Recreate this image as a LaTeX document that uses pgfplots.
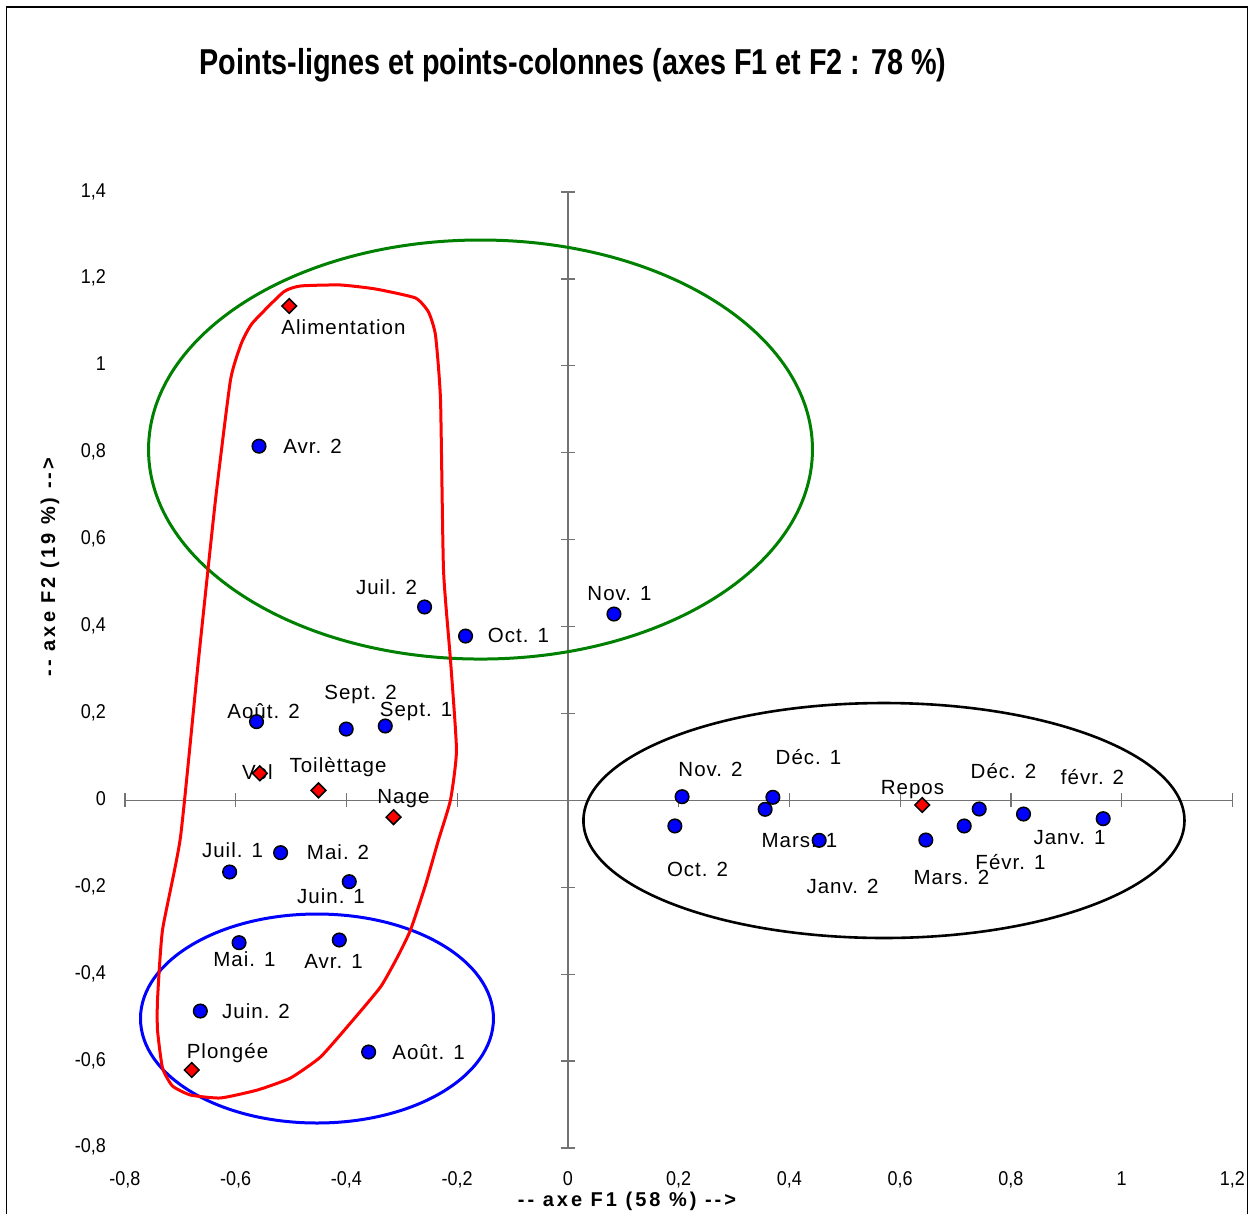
\documentclass[border=0pt]{standalone}
\usepackage{fontspec}
\setmainfont{Liberation Sans}
\usepackage{pgfplots}
\pgfplotsset{compat=1.18}
\newfontfamily\titlefont{Liberation Sans}[FakeStretch=0.8]
\newfontfamily\tickfont{Liberation Sans}[FakeStretch=0.9]
\newfontfamily\lblfont{Liberation Sans}[LetterSpace=5]
\newfontfamily\axlfont{Liberation Sans}[LetterSpace=15]
\definecolor{mygreen}{RGB}{0,128,0}

\pgfplotsset{
  geom/.style={at={(125pt,-1147.9pt)}, anchor=south west, scale only axis,
    width=1107.5pt, height=955.9pt,
    xmin=-0.8, xmax=1.2, ymin=-0.8, ymax=1.4,
    xtick={-0.8,-0.6,-0.4,-0.2,0,0.2,0.4,0.6,0.8,1,1.2},
    ytick={-0.8,-0.6,-0.4,-0.2,0,0.2,0.4,0.6,0.8,1,1.2,1.4}},
}
\tikzset{lbl/.style={font=\lblfont\fontsize{20.5}{24}\selectfont, inner sep=0pt, text height=14.6pt, text depth=0pt, anchor=center}}

\begin{document}
\begin{tikzpicture}[x=1pt,y=1pt]
\useasboundingbox (0,0) rectangle (1253,-1214);
\draw[line width=1.5pt] (6.5,-7) rectangle (1247.5,-1222);
\node[anchor=base, font=\titlefont\bfseries\fontsize{36}{40}\selectfont] at (573,-75) {Points-lignes et points-colonnes (axes F1 et F2 : 78 \%)};

\begin{axis}[geom, axis lines=middle,
  axis line style={-, draw=black!55, line width=1.2pt},
  every inner x axis line/.append style={-},
  every inner y axis line/.append style={-},
  xticklabels={}, yticklabels={},
  tick align=center, major tick length=14pt,
  major tick style={draw=black!55, line width=1.2pt}]
\end{axis}

\begin{axis}[geom, axis line style={draw=none}, major tick length=0pt,
  tick style={draw=none}, clip=false,
  xticklabels={{-0,8},{-0,6},{-0,4},{-0,2},0,{0,2},{0,4},{0,6},{0,8},1,{1,2}},
  yticklabels={{-0,8},{-0,6},{-0,4},{-0,2},0,{0,2},{0,4},{0,6},{0,8},1,{1,2},{1,4}},
  xticklabel style={font=\tickfont\fontsize{20}{24}\selectfont, anchor=base, inner sep=0pt, yshift=-38pt},
  yticklabel style={font=\tickfont\fontsize{20}{24}\selectfont, anchor=base east, inner sep=0pt, xshift=-19pt, yshift=-5pt}]

% shapes
\draw[mygreen, line width=3pt] (axis cs:-0.158,0.8073) ellipse [x radius=0.5995, y radius=0.4822];
\draw[black, line width=2.6pt] (axis cs:0.5706,-0.0465) ellipse [x radius=0.5427, y radius=0.2704];
\draw[blue, line width=3pt] (axis cs:-0.4533,-0.5022) ellipse [x radius=0.3187, y radius=0.2405];
\draw[red, line width=3pt] plot[smooth cycle, tension=0.3] coordinates {
(axis cs:-0.4831,1.1837) (axis cs:-0.4108,1.1860) (axis cs:-0.3476,1.1768) (axis cs:-0.2754,1.1561)
(axis cs:-0.2519,1.1238) (axis cs:-0.2393,1.0708) (axis cs:-0.2302,0.9213) (axis cs:-0.2248,0.5300)
(axis cs:-0.2122,0.3229) (axis cs:-0.2014,0.1158) (axis cs:-0.2122,0.0007) (axis cs:-0.2339,-0.0914)
(axis cs:-0.2573,-0.1949) (axis cs:-0.2844,-0.2985) (axis cs:-0.3079,-0.3606) (axis cs:-0.3386,-0.4297)
(axis cs:-0.3928,-0.5125) (axis cs:-0.4470,-0.5908) (axis cs:-0.5011,-0.6391) (axis cs:-0.5607,-0.6667)
(axis cs:-0.6275,-0.6851) (axis cs:-0.6817,-0.6783) (axis cs:-0.7142,-0.6576) (axis cs:-0.7323,-0.6162)
(axis cs:-0.7413,-0.5287) (axis cs:-0.7413,-0.4596) (axis cs:-0.7323,-0.2987) (axis cs:-0.6998,-0.0847)
(axis cs:-0.6673,0.3229) (axis cs:-0.6366,0.6912) (axis cs:-0.6095,0.9673) (axis cs:-0.5896,1.0525)
(axis cs:-0.5698,1.0985) (axis cs:-0.5138,1.1699)};

% labels
\node[lbl] at (axis cs:-0.4054,1.0899) {Alimentation};
\node[lbl] at (axis cs:-0.4614,0.8154) {Avr. 2};
\node[lbl] at (axis cs:-0.3278,0.4909) {Juil. 2};
\node[lbl] at (axis cs:-0.0894,0.3804) {Oct. 1};
\node[lbl] at (axis cs:0.0930,0.4776) {Nov. 1};
\node[lbl] at (axis cs:-0.3747,0.2492) {Sept. 2};
\node[lbl] at (axis cs:-0.2745,0.2101) {Sept. 1};
\node[lbl] at (axis cs:-0.5499,0.2040) {Août. 2};
\node[lbl] at (axis cs:-0.5607,0.0658) {Vol};
\node[lbl] at (axis cs:-0.4153,0.0812) {Toilèttage};
\node[lbl] at (axis cs:-0.2971,0.0099) {Nage};
\node[lbl] at (axis cs:-0.6059,-0.1144) {Juil. 1};
\node[lbl] at (axis cs:-0.4153,-0.1189) {Mai. 2};
\node[lbl] at (axis cs:-0.4280,-0.2196) {Juin. 1};
\node[lbl] at (axis cs:-0.5842,-0.3652) {Mai. 1};
\node[lbl] at (axis cs:-0.4235,-0.3698) {Avr. 1};
\node[lbl] at (axis cs:-0.5634,-0.4843) {Juin. 2};
\node[lbl] at (axis cs:-0.6149,-0.5781) {Plongée};
\node[lbl] at (axis cs:-0.2519,-0.5804) {Août. 1};
\node[lbl] at (axis cs:0.2573,0.0721) {Nov. 2};
\node[lbl] at (axis cs:0.4343,0.0997) {Déc. 1};
\node[lbl] at (axis cs:0.6221,0.0307) {Repos};
\node[lbl] at (axis cs:0.7865,0.0674) {Déc. 2};
\node[lbl] at (axis cs:0.9472,0.0536) {févr. 2};
\node[lbl] at (axis cs:0.4180,-0.0914) {Mars. 1};
\node[lbl] at (axis cs:0.9056,-0.0844) {Janv. 1};
\node[lbl] at (axis cs:0.2339,-0.1587) {Oct. 2};
\node[lbl] at (axis cs:0.7991,-0.1418) {Févr. 1};
\node[lbl] at (axis cs:0.6925,-0.1764) {Mars. 2};
\node[lbl] at (axis cs:0.4957,-0.1972) {Janv. 2};

% points-colonnes (mois)
\addplot[only marks, mark=*, mark size=6.8pt, mark options={fill=blue, draw=black, line width=1.5pt}] coordinates {
(-0.558,0.815) (-0.259,0.4449) (-0.185,0.378) (0.083,0.4287)
(-0.5625,0.181) (-0.4005,0.164) (-0.330,0.171)
(-0.611,-0.165) (-0.519,-0.1205) (-0.395,-0.1873) (-0.594,-0.3277) (-0.413,-0.3215)
(-0.664,-0.485) (-0.360,-0.5793)
(0.206,0.0083) (0.193,-0.0591) (0.370,0.0069) (0.356,-0.0207) (0.4536,-0.0921)
(0.6462,-0.0914) (0.7155,-0.0591) (0.7426,-0.0200) (0.8226,-0.0316) (0.9665,-0.0423)};
% points-lignes (comportements)
\addplot[only marks, mark=square*, mark size=5.2pt, mark options={rotate=45, fill=red, draw=black, line width=1.5pt}] coordinates {
(-0.5035,1.1376) (-0.5566,0.0621) (-0.4506,0.0229) (-0.3151,-0.0388) (-0.6794,-0.6207) (0.6396,-0.0108)};
\end{axis}

\node[anchor=base, font=\axlfont\bfseries\fontsize{20}{24}\selectfont] at (627,-1206) {-- axe F1 (58 \%) -->};
\node[anchor=base, rotate=90, font=\axlfont\bfseries\fontsize{20}{24}\selectfont] at (55,-567) {-- axe F2 (19 \%) -->};
\end{tikzpicture}
\end{document}
